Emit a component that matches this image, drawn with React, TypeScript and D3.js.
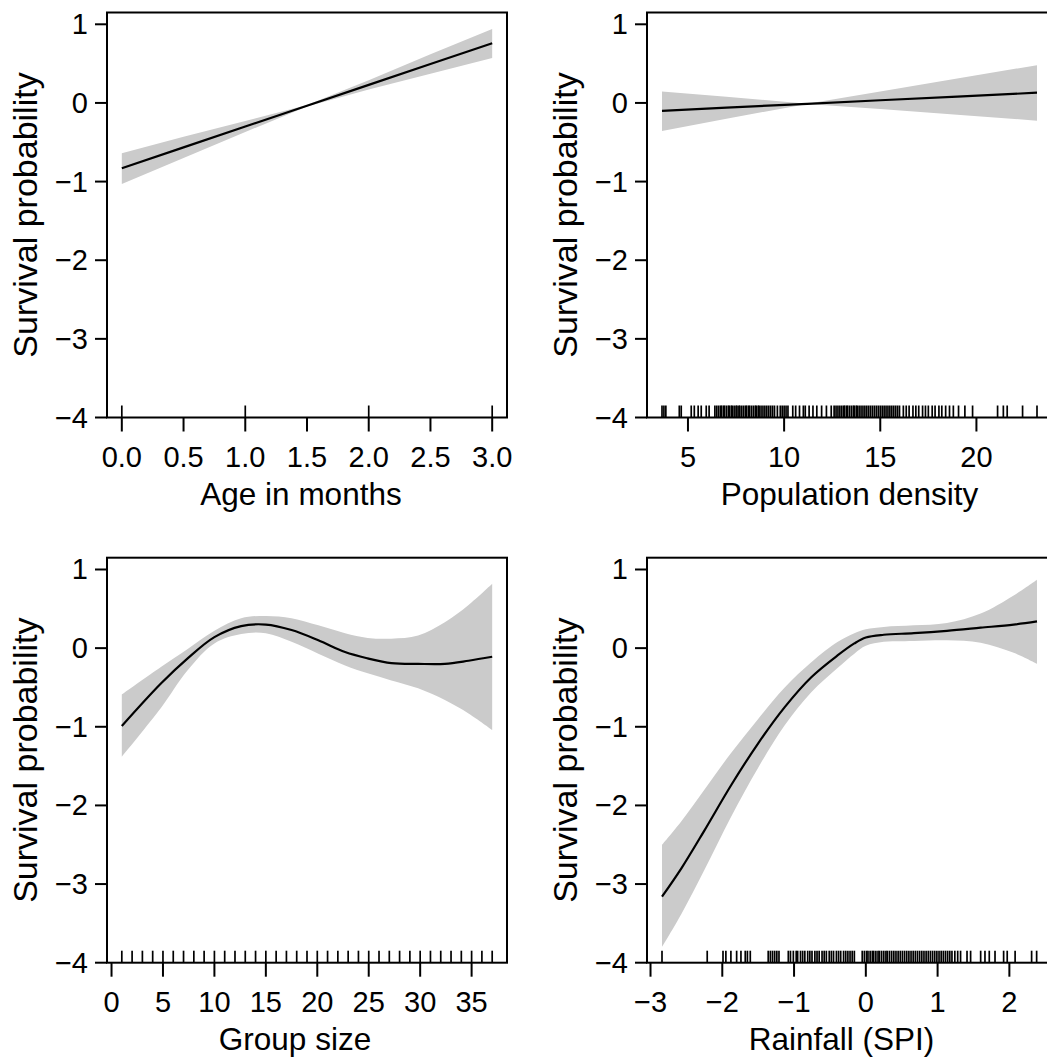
import React from "react";
import * as d3 from "d3";

// ---------- DATA ----------
const AGE_X = [0, 0.5, 1, 1.5, 2, 2.5, 3];
const AGE_FIT = [-0.83, -0.565, -0.3, -0.035, 0.23, 0.495, 0.76];
const AGE_LO = [-1.03, -0.7, -0.37, -0.045, 0.17, 0.37, 0.57];
const AGE_HI = [-0.64, -0.43, -0.23, -0.025, 0.29, 0.62, 0.94];
const AGE_RUG = [0, 1, 2, 3];
const AGE_TICKS = [0, 0.5, 1, 1.5, 2, 2.5, 3];

const POP_X = [3.65, 7, 11.2, 15, 19, 23.15];
const POP_FIT = [-0.1, -0.06, -0.011, 0.034, 0.081, 0.13];
const POP_LO = [-0.356, -0.2, -0.013, -0.076, -0.149, -0.225];
const POP_HI = [0.144, 0.08, -0.009, 0.144, 0.311, 0.48];
const POP_RUG = [
  3.65, 3.75, 3.85, 4.55, 4.65, 5.17, 5.33, 5.53, 5.69, 5.95, 6.1,
  6.4, 6.5, 6.6, 6.7, 6.75, 6.85, 6.9, 7.0, 7.1, 7.15, 7.25, 7.3, 7.4, 7.5, 7.55,
  7.65, 7.7, 7.8, 7.9, 8.0, 8.05, 8.15, 8.2, 8.3, 8.4, 8.5, 8.55, 8.65, 8.7, 8.8,
  8.9, 9.0, 9.1, 9.2, 9.3, 9.4, 9.5, 9.65, 9.8, 9.9, 10.0, 10.1, 10.2,
  10.45, 10.6, 10.8, 11.0, 11.1, 11.3, 11.5, 11.7, 11.95, 12.2, 12.45,
  12.6, 12.7, 12.8, 12.9, 13.0, 13.1, 13.15, 13.25, 13.3, 13.4, 13.5, 13.6, 13.65,
  13.75, 13.8, 13.9, 14.0, 14.1, 14.2, 14.3, 14.4, 14.5, 14.6, 14.7, 14.8, 14.9,
  15.0, 15.1, 15.2, 15.3, 15.4, 15.5, 15.6, 15.7, 15.8, 15.9, 16.0,
  16.2, 16.35, 16.5, 16.7, 16.85, 17.0, 17.2, 17.35, 17.5, 17.7, 17.85, 18.05,
  18.2, 18.4, 18.6, 18.8, 19.07, 19.4, 19.8, 21.1, 21.4, 21.6, 22.4, 23.15,
];
const POP_TICKS = [5, 10, 15, 20];

const GRP_X = [1, 4.8, 7.4, 10, 12.6, 15, 17.5, 20.1, 22.7, 24.9, 27.2, 29.8, 32.4, 34.7, 37];
const GRP_FIT = [-0.99, -0.45, -0.13, 0.14, 0.28, 0.3, 0.23, 0.1, -0.05, -0.13, -0.19, -0.2, -0.2, -0.16, -0.11];
const GRP_HI = [-0.59, -0.24, -0.01, 0.22, 0.38, 0.41, 0.38, 0.29, 0.19, 0.13, 0.12, 0.16, 0.33, 0.55, 0.82];
const GRP_LO = [-1.38, -0.76, -0.28, 0.06, 0.18, 0.19, 0.08, -0.07, -0.22, -0.32, -0.41, -0.51, -0.66, -0.83, -1.04];
const GRP_RUG = [
  1, 2, 3, 4, 5, 6, 7, 8, 9, 10, 11, 12, 13, 14, 15, 16, 17, 18, 19, 20, 21, 22, 23, 24,
  25, 26, 27, 28, 29, 30, 31, 32, 33, 34, 35, 36, 37,
];
const GRP_TICKS = [0, 5, 10, 15, 20, 25, 30, 35];

const RAIN_X = [-2.84, -2.57, -2.25, -1.875, -1.5, -1.13, -0.76, -0.39, -0.16, 0, 0.25, 0.67, 1.13, 1.6, 2.06, 2.385];
const RAIN_FIT = [-3.16, -2.8, -2.32, -1.74, -1.21, -0.75, -0.37, -0.09, 0.06, 0.135, 0.17, 0.19, 0.22, 0.26, 0.3, 0.34];
const RAIN_HI = [-2.5, -2.2, -1.8, -1.33, -0.9, -0.5, -0.18, 0.08, 0.19, 0.24, 0.27, 0.29, 0.32, 0.44, 0.67, 0.87];
const RAIN_LO = [-3.8, -3.38, -2.82, -2.14, -1.52, -0.98, -0.56, -0.25, -0.07, 0.03, 0.08, 0.09, 0.1, 0.07, -0.06, -0.2];
const RAIN_RUG = [
  -2.84, -2.21, -1.99, -1.95, -1.88, -1.8, -1.74, -1.68, -1.65, -1.61,
  -1.36, -1.33, -1.3, -1.27, -1.24, -1.21,
  -1.08, -1.05, -1.01, -0.97, -0.95, -0.91, -0.88, -0.85, -0.81, -0.78, -0.75, -0.71,
  -0.68, -0.65, -0.61, -0.58, -0.55, -0.51, -0.48, -0.45, -0.41, -0.38, -0.35, -0.31,
  -0.28, -0.25, -0.22, -0.19, -0.16, -0.05, -0.02, 0.01, 0.03, 0.06, 0.09, 0.11,
  0.14, 0.17, 0.19, 0.22, 0.25, 0.28, 0.3, 0.33, 0.36, 0.39, 0.42, 0.45, 0.48, 0.51,
  0.54, 0.57, 0.6, 0.63, 0.66, 0.69, 0.72, 0.75, 0.78, 0.81, 0.84, 0.87, 0.9, 0.93,
  0.96, 0.99, 1.02, 1.05, 1.08, 1.11, 1.14, 1.17, 1.2, 1.24, 1.28, 1.32,
  1.41, 1.46, 1.6, 1.66, 1.72, 1.8, 1.92, 1.97, 2.08, 2.31, 2.38,
];
const RAIN_TICKS = [-3, -2, -1, 0, 1, 2];

const Y_TICKS = [-4, -3, -2, -1, 0, 1];
const Y_LABEL = "Survival probability";

// ---------- LAYOUT ----------
const W = 1047;
const H = 1061;
const BOX_H = 405;
const Y_TOP = 1.15;
const FONT = "'Liberation Sans', Arial, Helvetica, sans-serif";
const TICK_FS = 29;
const XTITLE_FS = 31.5;
const YTITLE_FS = 34;

type PanelDef = {
  left: number;
  right: number;
  bottom: number;
  xs: number[];
  fit: number[];
  lo: number[];
  hi: number[];
  rug: number[];
  ticks: number[];
  fmt: (v: number) => string;
  title: string;
  titleShift: number;
  smooth: boolean;
};

const minus = (s: string) => s.replace("-", "\u2212");

const PANELS: PanelDef[] = [
  {
    left: 107, right: 507, bottom: 417.5,
    xs: AGE_X, fit: AGE_FIT, lo: AGE_LO, hi: AGE_HI, rug: AGE_RUG,
    ticks: AGE_TICKS, fmt: (v) => v.toFixed(1), title: "Age in months", titleShift: -6, smooth: false,
  },
  {
    left: 647, right: 1052, bottom: 417.5,
    xs: POP_X, fit: POP_FIT, lo: POP_LO, hi: POP_HI, rug: POP_RUG,
    ticks: POP_TICKS, fmt: (v) => String(v), title: "Population density", titleShift: 0, smooth: false,
  },
  {
    left: 107, right: 507, bottom: 962.7,
    xs: GRP_X, fit: GRP_FIT, lo: GRP_LO, hi: GRP_HI, rug: GRP_RUG,
    ticks: GRP_TICKS, fmt: (v) => String(v), title: "Group size", titleShift: -12, smooth: true,
  },
  {
    left: 647, right: 1052, bottom: 962.7,
    xs: RAIN_X, fit: RAIN_FIT, lo: RAIN_LO, hi: RAIN_HI, rug: RAIN_RUG,
    ticks: RAIN_TICKS, fmt: (v) => minus(String(v)), title: "Rainfall (SPI)", titleShift: -8, smooth: true,
  },
];

function Panel({ p }: { p: PanelDef }) {
  const top = p.bottom - BOX_H;
  const lo = Math.min(d3.min(p.xs)!, d3.min(p.rug)!);
  const hi = Math.max(d3.max(p.xs)!, d3.max(p.rug)!);
  const ext = (hi - lo) * 0.04;
  const x = d3.scaleLinear().domain([lo - ext, hi + ext]).range([p.left, p.right]);
  const y = d3.scaleLinear().domain([-4, Y_TOP]).range([p.bottom, top]);
  const curve = p.smooth ? d3.curveCatmullRom.alpha(0.5) : d3.curveLinear;
  const idx = p.xs.map((_, i) => i);
  const area = d3
    .area<number>()
    .x((i) => x(p.xs[i]))
    .y0((i) => y(p.lo[i]))
    .y1((i) => y(p.hi[i]))
    .curve(curve);
  const line = d3
    .line<number>()
    .x((i) => x(p.xs[i]))
    .y((i) => y(p.fit[i]))
    .curve(curve);
  const cx = (p.left + p.right) / 2 + p.titleShift;
  const cy = (top + p.bottom) / 2;
  return (
    <g>
      <path d={area(idx) || ""} fill="#cbcbcb" stroke="none" />
      <path d={line(idx) || ""} fill="none" stroke="#000" strokeWidth={2.2} />
      {p.rug.map((v, i) => (
        <line key={"r" + i} x1={x(v)} x2={x(v)} y1={p.bottom} y2={p.bottom - 12} stroke="#000" strokeWidth={1.7} />
      ))}
      <rect x={p.left} y={top} width={p.right - p.left} height={BOX_H} fill="none" stroke="#000" strokeWidth={2} />
      {Y_TICKS.map((t) => (
        <g key={"y" + t}>
          <line x1={p.left - 12} x2={p.left} y1={y(t)} y2={y(t)} stroke="#000" strokeWidth={2} />
          <text x={p.left - 19} y={y(t)} textAnchor="end" dominantBaseline="central" fontSize={TICK_FS} fontFamily={FONT}>
            {minus(String(t))}
          </text>
        </g>
      ))}
      {p.ticks.map((t) => (
        <g key={"x" + t}>
          <line x1={x(t)} x2={x(t)} y1={p.bottom} y2={p.bottom + 14} stroke="#000" strokeWidth={2} />
          <text x={x(t)} y={p.bottom + 49} textAnchor="middle" fontSize={TICK_FS} fontFamily={FONT}>
            {p.fmt(t)}
          </text>
        </g>
      ))}
      <text x={cx} y={p.bottom + 87} textAnchor="middle" fontSize={XTITLE_FS} fontFamily={FONT}>
        {p.title}
      </text>
      <text
        transform={`translate(${p.left - 70},${cy}) rotate(-90)`}
        textAnchor="middle"
        fontSize={YTITLE_FS}
        fontFamily={FONT}
      >
        {Y_LABEL}
      </text>
    </g>
  );
}

export default function App() {
  return (
    <svg
      width={W}
      height={H}
      viewBox={`0 0 ${W} ${H}`}
      style={{ position: "absolute", left: 0, top: 0, background: "#fff" }}
    >
      <rect x={0} y={0} width={W} height={H} fill="#fff" />
      {PANELS.map((p, i) => (
        <Panel key={i} p={p} />
      ))}
    </svg>
  );
}
